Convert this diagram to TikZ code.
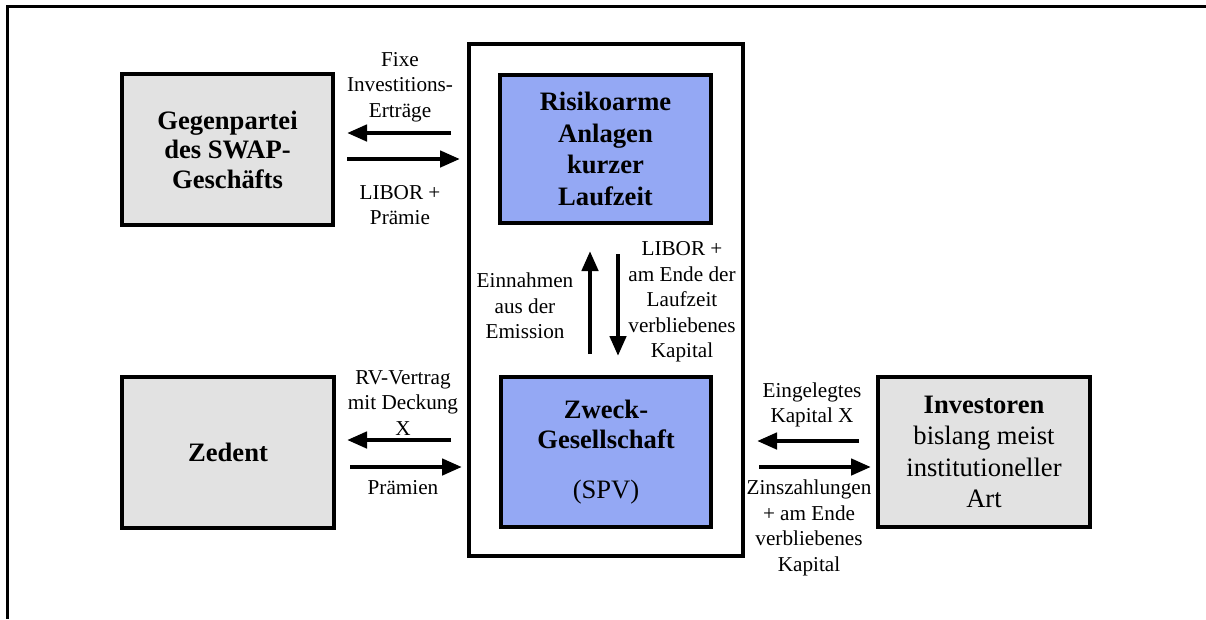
\documentclass[tikz,border=0pt]{standalone}
\usepackage{fontspec}
\setmainfont{Liberation Serif}
\usetikzlibrary{arrows.meta}
\definecolor{boxgray}{RGB}{226,226,226}
\definecolor{boxblue}{RGB}{148,168,244}
\tikzset{
  party/.style={draw=black, line width=4pt, fill=boxgray, align=center,
    inner sep=0pt, font=\fontsize{26.6}{29.5}\selectfont},
  asset/.style={party, fill=boxblue, font=\fontsize{26.6}{31.5}\selectfont},
  frame/.style={draw=black, line width=4pt, inner sep=0pt},
  flow/.style={line width=4.5pt, -{Triangle[length=20pt,width=16pt]}},
  lbl/.style={align=center, inner sep=0pt, font=\fontsize{21.2}{25.5}\selectfont}
}
\begin{document}
\begin{tikzpicture}[x=1pt,y=-1pt]
\useasboundingbox (0,0) rectangle (1206,619);
% page frame (top and left edges)
\draw[line width=3pt] (1206,6) -- (7,6) -- (7,619);

% container around the special purpose vehicle
\node[frame, minimum width=274pt, minimum height=512pt] (cont) at (606,300) {};

% parties and assets
\node[party, minimum width=211pt, minimum height=151pt] (gegen) at (227.5,149.5)
  {\textbf{Gegenpartei}\\\textbf{des SWAP-}\\\textbf{Geschäfts}};
\node[asset, minimum width=211pt, minimum height=148pt] (risiko) at (605.5,149)
  {\textbf{Risikoarme}\\\textbf{Anlagen}\\\textbf{kurzer}\\\textbf{Laufzeit}};
\node[asset, minimum width=210pt, minimum height=150pt,
      font=\fontsize{26.6}{30}\selectfont] (zweck) at (606,452)
  {\textbf{Zweck-}\\\textbf{Gesellschaft}\\[20pt](SPV)};
\node[party, minimum width=212pt, minimum height=151pt] (zedent) at (228,452.5)
  {\textbf{Zedent}};
\node[party, minimum width=212pt, minimum height=150pt,
      font=\fontsize{26.6}{31.5}\selectfont] (invest) at (984,452)
  {\textbf{Investoren}\\bislang meist\\institutioneller\\Art};

% swap flows
\draw[flow, shorten <=16pt, shorten >=12pt] (cont.west |- 0,133) -- (gegen.east |- 0,133);
\draw[flow, shorten <=12pt, shorten >=7pt] (gegen.east |- 0,159) -- (cont.west |- 0,159);
\node[lbl] (lfix) at (400,87) {Fixe\\Investitions-\\Erträge};
\node[lbl] (llib) at (400,205) {LIBOR +\\Prämie};

% reinsurance flows
\draw[flow, shorten <=16pt, shorten >=11pt] (cont.west |- 0,440) -- (zedent.east |- 0,440);
\draw[flow, shorten <=14pt, shorten >=5pt] (zedent.east |- 0,467) -- (cont.west |- 0,467);
\node[lbl] (lrv) at (403,403) {RV-Vertrag\\mit Deckung\\X};
\node[lbl] (lpr) at (403,488) {Prämien};

% investor flows
\draw[flow, shorten <=17pt, shorten >=12pt] (invest.west |- 0,441) -- (cont.east |- 0,441);
\draw[flow, shorten <=14pt, shorten >=5pt] (cont.east |- 0,467) -- (invest.west |- 0,467);
\node[lbl] (lein) at (812,405) {Eingelegtes\\Kapital X};
\node[lbl] (lzins) at (809,528) {Zinszahlungen\\+ am Ende\\verbliebenes\\Kapital};

% flows inside the vehicle
\draw[flow, shorten <=21pt, shorten >=26pt] (zweck.north -| 590,0) -- (risiko.south -| 590,0);
\draw[flow, shorten <=29pt, shorten >=19pt] (risiko.south -| 618,0) -- (zweck.north -| 618,0);
\node[lbl] (lemi) at (525,306) {Einnahmen\\aus der\\Emission};
\node[lbl] (lkap) at (682,302) {LIBOR +\\am Ende der\\Laufzeit\\verbliebenes\\Kapital};
\end{tikzpicture}
\end{document}
